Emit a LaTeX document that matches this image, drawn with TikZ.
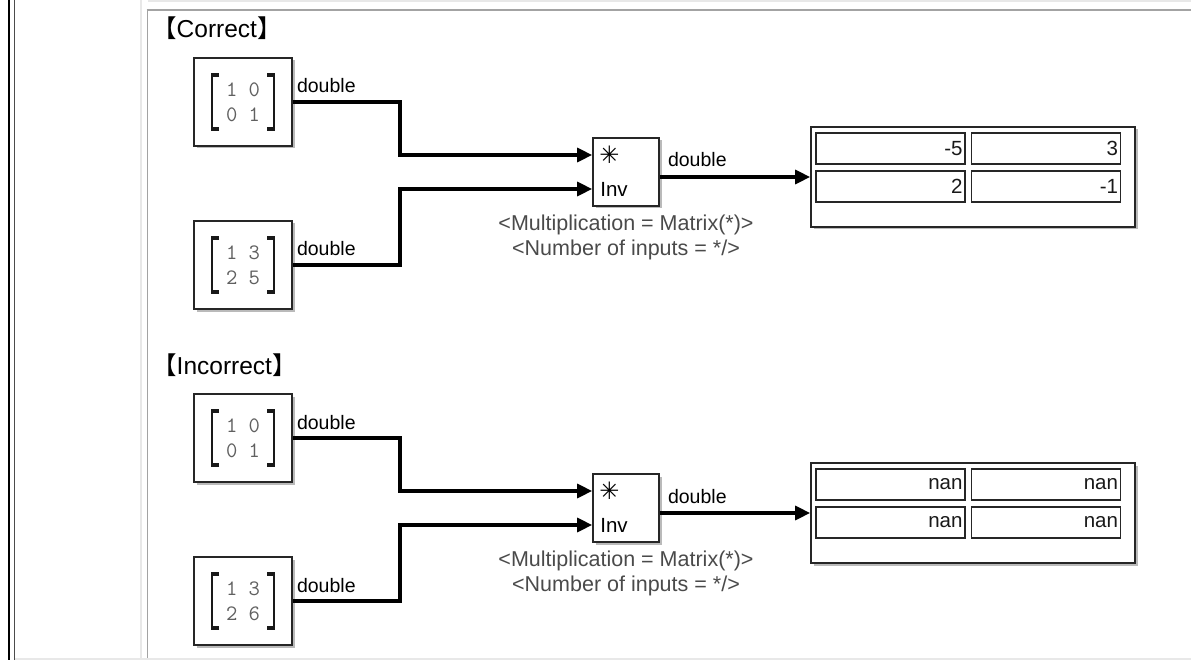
\documentclass[tikz,border=0pt]{standalone}
\usepackage{fontspec}
\setmainfont{Liberation Sans}
\newfontfamily\cjk{Noto Sans CJK SC}
\newfontfamily\dingfont{DejaVu Sans}
\usepackage{xcolor}
\usetikzlibrary{arrows.meta, positioning, shadows}

\definecolor{rulegray}{HTML}{A3A3A3}
\definecolor{palegray}{HTML}{E8E8E8}
\definecolor{digitgray}{HTML}{606060}
\definecolor{notegray}{HTML}{4A4A4A}

\tikzset{
  blk/.style={draw=black!85, fill=white, line width=1.7pt, inner sep=0pt,
    drop shadow={shadow xshift=2.5pt, shadow yshift=-2.5pt, opacity=0.45, fill=black!60}},
  srcblk/.style={blk, minimum width=98pt, minimum height=88pt, align=center,
    font=\ttfamily\fontsize{22}{25}\selectfont, text=digitgray},
  bracket/.style={line width=2pt, black!90},
  tipbar/.style={line width=4pt, black!90},
  signal/.style={line width=3.2pt, line join=miter, -{Triangle[length=15pt, width=14pt]}},
  lbl/.style={font=\fontsize{19.5}{22}\selectfont, inner sep=0pt},
  port/.style={font=\fontsize{20.5}{22}\selectfont, inner sep=0pt, anchor=west},
  note/.style={font=\fontsize{21.5}{25}\selectfont, text=notegray, align=center, inner sep=0pt},
  heading/.style={font=\fontsize{24.5}{28}\selectfont, inner sep=0pt},
  cell/.style={draw=black!85, line width=1.2pt, text width=144pt, align=right,
    minimum height=31pt, inner xsep=2.5pt, inner ysep=0pt,
    font=\fontsize{20.5}{22}\selectfont, text=black!90}
}

\begin{document}
\begin{tikzpicture}[x=1pt, y=-1pt]
  \useasboundingbox (0,0) rectangle (1191,660);

  % rules of the surrounding table
  \draw[line width=2.5pt] (9,0) -- (9,660);
  \draw[black!70, line width=1.6pt] (14.5,0) -- (14.5,660);
  \draw[palegray, line width=2pt] (141,0) -- (141,660);
  \draw[palegray, line width=2pt] (148,1.5) -- (1191,1.5);
  \draw[rulegray, line width=2pt] (146.6,10) -- (1191,10);
  \draw[rulegray, line width=1.8pt] (147.5,10) -- (147.5,660);
  \draw[palegray, line width=2pt] (15,659) -- (1191,659);

  \foreach \sn/\oy/\head/\lastval/\ra/\rb/\rc/\rd in {
    1/0/Correct/5/-5/3/2/-1,
    2/336/Incorrect/6/nan/nan/nan/nan
  }{
    \node[heading, anchor=base west] (head\sn) at (152, 38+\oy) {{\cjk 【}\head{\cjk 】}};

    % constant blocks
    \node[srcblk] (mA\sn) at (243, 102+\oy) {1 0\\0 1};
    \node[srcblk] (mB\sn) at (243, 265+\oy) {1 3\\2 \lastval};
    \foreach \m in {mA\sn, mB\sn}{
      \foreach \sx in {-1,1}{
        \draw[bracket] ([shift={(\sx*25,-27)}]\m.center) -- ([shift={(\sx*31,-27)}]\m.center)
          -- ([shift={(\sx*31,27)}]\m.center) -- ([shift={(\sx*25,27)}]\m.center);
        \draw[tipbar] ([shift={(\sx*24,-27)}]\m.center) -- ([shift={(\sx*32,-27)}]\m.center);
        \draw[tipbar] ([shift={(\sx*24,27)}]\m.center) -- ([shift={(\sx*32,27)}]\m.center);
      }
    }

    % product block
    \node[blk, minimum width=66pt, minimum height=68pt] (prod\sn) at (626, 172+\oy) {};
    \coordinate (in1\sn) at ([shift={(0,-17)}]prod\sn.west);
    \coordinate (in2\sn) at ([shift={(0,17)}]prod\sn.west);
    \node[port] (star\sn) at ([shift={(7,0)}]in1\sn) {\dingfont\fontsize{24}{26}\selectfont ✳};
    \node[port] (inv\sn) at ([shift={(8,0)}]in2\sn) {Inv};
    \node[note, below=8pt of prod\sn] (cap\sn) {<Multiplication = Matrix(*)>\\<Number of inputs = */>};

    % display block
    \node[blk, minimum width=324pt, minimum height=100pt] (disp\sn) at (973, 177+\oy) {};
    \foreach \cx/\cy/\val [count=\k] in {890.5/148.5/\ra, 1046/148.5/\rb, 890.5/186.5/\rc, 1046/186.5/\rd}
      \node[cell] (cell\sn\k) at (\cx, \cy+\oy) {\val};

    % signal lines
    \coordinate (bend\sn) at (400, 172+\oy);
    \draw[signal] (mA\sn.east) -| (bend\sn |- in1\sn) -- (in1\sn);
    \draw[signal] (mB\sn.east) -| (bend\sn |- in2\sn) -- (in2\sn);
    \coordinate (out\sn) at (prod\sn.east |- disp\sn.west);
    \draw[signal] (out\sn) -- (disp\sn.west);

    \node[lbl, anchor=base west] (lA\sn) at ([shift={(4,-9)}]mA\sn.east) {double};
    \node[lbl, anchor=base west] (lB\sn) at ([shift={(4,-9)}]mB\sn.east) {double};
    \node[lbl, anchor=base west] (lP\sn) at ([shift={(8,-10)}]out\sn) {double};
  }
\end{tikzpicture}
\end{document}
